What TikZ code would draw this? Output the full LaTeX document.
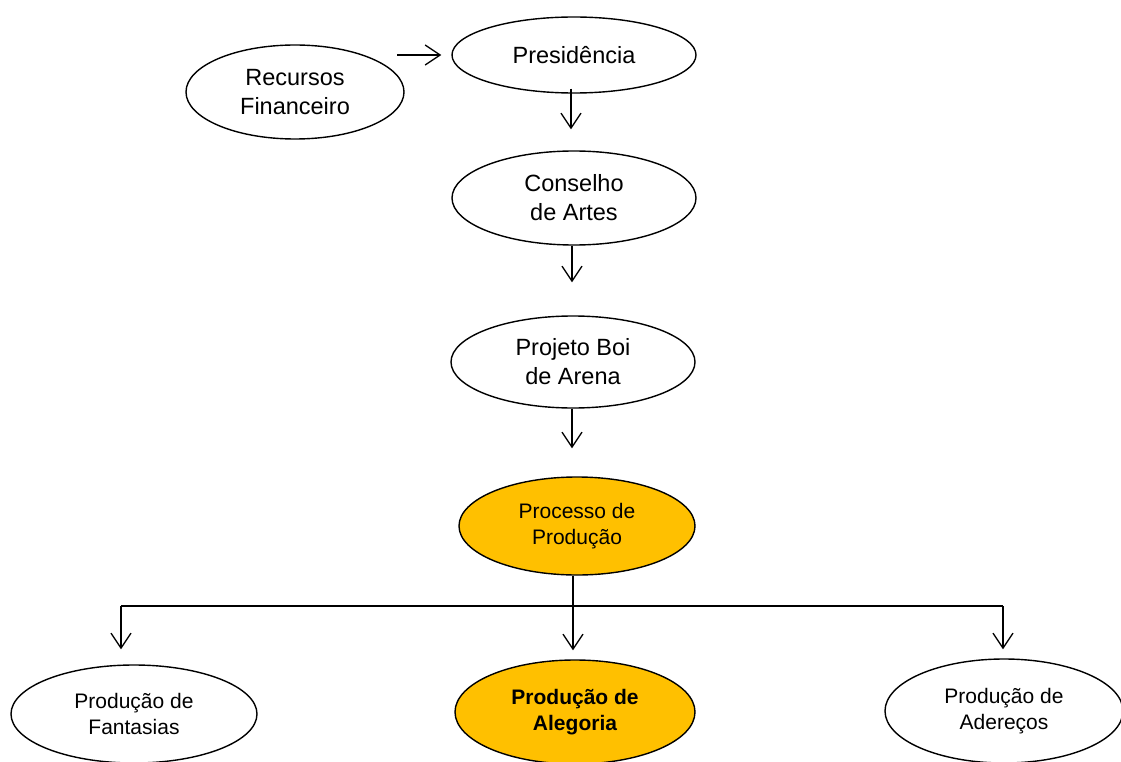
\documentclass[tikz,border=0pt]{standalone}
\usepackage{fontspec}
\setmainfont{Liberation Sans}
\usetikzlibrary{shapes.geometric,arrows.meta,calc}
\definecolor{orangeY}{HTML}{FFC000}
\begin{document}
\begin{tikzpicture}[x=1pt,y=-1pt,
  el/.style={draw, ellipse, line width=1.4pt, inner sep=0pt, align=center,
    font=\fontsize{23.5}{29}\selectfont},
  sm/.style={font=\fontsize{21}{26}\selectfont},
  org/.style={fill=orangeY},
  arr/.style={-{Straight Barb[length=15pt,width=20pt,line width=1.3pt]}, line width=1.3pt},
  ln/.style={line width=1.3pt}
]
\clip (0,0) rectangle (1121,762);
\fill[white] (0,0) rectangle (1121,762);
\node[el, minimum width=218pt, minimum height=94pt] (rec) at (295,92) {Recursos\\Financeiro};
\node[el, minimum width=244pt, minimum height=76pt] (pres) at (574,55) {Presidência};
\node[el, minimum width=244pt, minimum height=94pt] (cons) at (574,198) {Conselho\\de Artes};
\node[el, minimum width=244pt, minimum height=92pt] (proj) at (573,362) {Projeto Boi\\de Arena};
\node[el, org, sm, minimum width=236pt, minimum height=98pt] (proc) at (577,526) {Processo de\\Produção};
\node[el, sm, minimum width=246pt, minimum height=98pt] (fant) at (134,714) {Produção de\\Fantasias};
\node[el, org, sm, minimum width=240pt, minimum height=104pt] (aleg) at (575,712) {\bfseries Produção de\\\bfseries Alegoria};
\node[el, sm, minimum width=238pt, minimum height=104pt] (ader) at (1004,711) {Produção de\\Adereços};

\draw[arr] ([xshift=-54pt]pres.west) -- ([xshift=-10pt]pres.west);
\draw[arr] ([xshift=-3pt,yshift=5pt]pres.south) -- ([xshift=-3pt,yshift=21pt]cons.north);
\draw[arr] ([xshift=-2pt]cons.south) -- ([xshift=-1pt,yshift=33pt]proj.north);
\draw[arr] ([xshift=-1pt]proj.south) -- ([xshift=-5pt,yshift=28pt]proc.north);
\coordinate (hub) at (573,606);
\coordinate (hl) at (121,606);
\coordinate (hr) at (1003,606);
\draw[ln] (proc.south -| hub) -- (hub);
\draw[ln] (hl) -- (hr);
\draw[arr] (hl) -- ([yshift=15pt]fant.north -| hl);
\draw[arr] (hub) -- ([yshift=9pt]aleg.north -| hub);
\draw[arr] (hr) -- ([yshift=9pt]ader.north -| hr);
\end{tikzpicture}
\end{document}
